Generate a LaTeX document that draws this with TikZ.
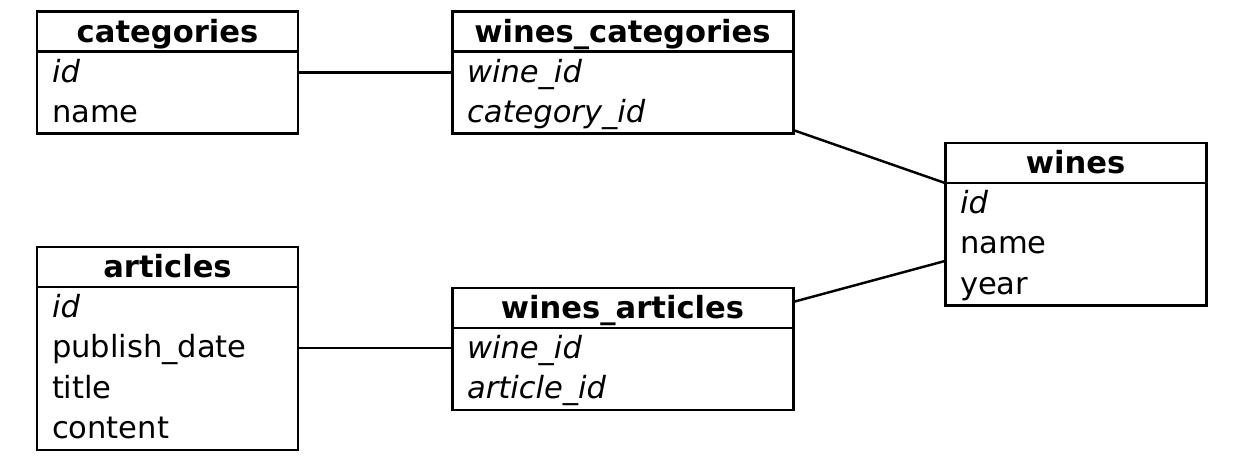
\documentclass[tikz,border=0pt]{standalone}
\usepackage{fontspec}
\setmainfont{DejaVu Sans}
\usetikzlibrary{positioning}
\newcommand{\headstrut}{\rule[-0.18cm]{0pt}{0.8cm}}
\newcommand{\rowstrut}{\rule[-0.21cm]{0pt}{0.81cm}}
\tikzset{
	node distance=3.08cm, % gap between two tables
	table head/.style={draw, line width=1.7pt, outer sep=0pt, text width=#1, align=center, inner xsep=0.3cm, inner ysep=0pt, minimum height=0.8cm, font=\fontsize{17.4pt}{0.81cm}\selectfont\bfseries, execute at begin node=\headstrut}, % table name
	table body/.style={draw, line width=1.7pt, outer sep=0pt, text width=#1, align=left, inner xsep=0.3cm, inner ysep=0.01cm, font=\fontsize{17.4pt}{0.81cm}\selectfont, execute at begin node=\rowstrut, execute at end node=\rowstrut}, % list of fields
	link/.style={line width=1.4pt}, % relation between tables
}
\begin{document}
\begin{tikzpicture}
		\useasboundingbox (0,0) rectangle (25,9.24);
		\node[table head=4.62cm,anchor=north west] (cath) at (0.74,9.00) {categories};
		\node[table body=4.62cm,below=0pt of cath] (catb) {\textit{id}\\name};
		\node[table head=6.22cm,right=of cath] (wch) {wines\_categories};
		\node[table body=6.22cm,below=0pt of wch] (wcb) {\textit{wine\_id}\\\textit{category\_id}};
		\node[table head=4.62cm,anchor=north west] (winesh) at (18.90,6.38) {wines};
		\node[table body=4.62cm,below=0pt of winesh] (winesb) {\textit{id}\\name\\year};
		\node[table head=4.62cm,below=2.26cm of catb] (arth) {articles};
		\node[table body=4.62cm,below=0pt of arth] (artb) {\textit{id}\\publish\_date\\title\\content};
		\node[table head=6.22cm,below=of wcb] (wah) {wines\_articles};
		\node[table body=6.22cm,below=0pt of wah] (wab) {\textit{wine\_id}\\\textit{article\_id}};
		
		\coordinate (wa-in) at ([yshift=-0.4cm]wab.north west);
		\draw[link] ([yshift=-0.41cm]catb.north east) -- ([yshift=-0.41cm]wcb.north west);
		\draw[link] ([yshift=0.08cm]wcb.south east) -- (winesb.north west);
		\draw[link] ([yshift=-0.28cm]wah.north east) -- ([yshift=-1.56cm]winesb.north west);
		\draw[link] (wa-in -| artb.east) -- (wa-in);
		
	\end{tikzpicture}
\end{document}
